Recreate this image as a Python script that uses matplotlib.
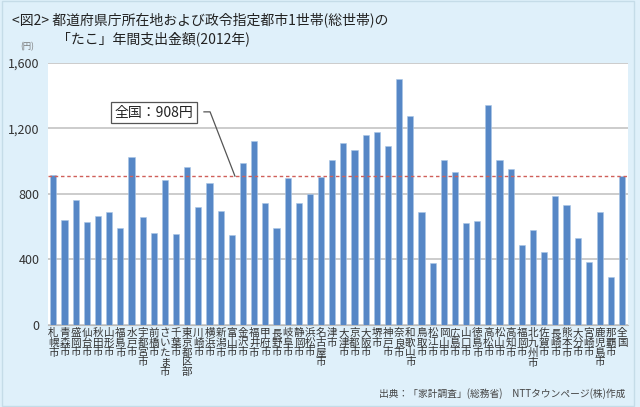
import matplotlib
matplotlib.use("Agg")
import matplotlib.pyplot as plt
from matplotlib.patches import Rectangle

plt.rcParams['font.family'] = ['Noto Sans CJK JP', 'DejaVu Sans']

cities = ["札幌市", "青森市", "盛岡市", "仙台市", "秋田市", "山形市", "福島市", "水戸市",
          "宇都宮市", "前橋市", "さいたま市", "千葉市", "東京都区部", "川崎市", "横浜市",
          "新潟市", "富山市", "金沢市", "福井市", "甲府市", "長野市", "岐阜市", "静岡市",
          "浜松市", "名古屋市", "津市", "大津市", "京都市", "大阪市", "堺市", "神戸市",
          "奈良市", "和歌山市", "鳥取市", "松江市", "岡山市", "広島市", "山口市", "徳島市",
          "高松市", "松山市", "高知市", "福岡市", "北九州市", "佐賀市", "長崎市", "熊本市",
          "大分市", "宮崎市", "鹿児島市", "那覇市", "全国"]
values = [915, 641, 763, 629, 664, 692, 594, 1022,
          657, 564, 885, 556, 961, 719, 865,
          698, 550, 987, 1120, 745, 594, 896, 745,
          802, 900, 1004, 1110, 1067, 1156, 1179, 1089,
          1500, 1272, 688, 377, 1008, 932, 621, 635,
          1339, 1005, 949, 489, 582, 448, 786, 729,
          533, 387, 692, 295, 908]
national = 908
yticks = [0, 400, 800, 1200, 1600]
ytick_labels = ["0", "400", "800", "1,200", "1,600"]

bg = "#dff0fa"
fig = plt.figure(figsize=(6.4, 4.07), dpi=100, facecolor=bg)
fig.patches.append(Rectangle((0.003, 0.003), 0.988, 0.994, transform=fig.transFigure,
                             fill=False, edgecolor="#c5dce8", lw=1.0))

ax = fig.add_axes([0.075, 0.2015, 0.906, 0.6445])
ax.set_facecolor("white")
x = list(range(len(values)))
ax.bar(x, values, width=0.55, color="#5687c6", edgecolor="#a9c6e6", linewidth=0.4, zorder=3)
ax.set_ylim(0, 1600)
ax.set_xlim(-0.48, len(values) - 0.5)
ax.set_yticks(yticks)
ax.set_yticklabels(ytick_labels, fontsize=9, color="#333333")
ax.yaxis.grid(True, color="#c8c8c8", linewidth=1.3, zorder=0)
ax.set_axisbelow(True)
for s in ["top", "right", "left"]:
    ax.spines[s].set_visible(False)
ax.spines["bottom"].set_color("#bbbbbb")
ax.tick_params(axis="y", length=0, pad=6)
ax.tick_params(axis="x", length=0, pad=2)
ax.set_xticks(x)
ax.set_xticklabels(["\n".join(c) for c in cities], fontsize=7.6, color="#333333",
                   linespacing=0.98, va="top")

ax.axhline(national, color="#d0605a", linestyle=(0, (2.5, 2)), linewidth=1.0, zorder=4)

# annotation for national average
ax.text(9.0, 1295, "全国：908円", fontsize=10, color="#222222", ha="center", va="center",
        zorder=6, bbox=dict(boxstyle="square,pad=0.25", fc="white", ec="#555555", lw=0.9))
ax.plot([13.5, 14.05, 16.28], [1300, 1300, national], color="#555555", lw=0.9, zorder=5)

fig.text(0.018, 0.951, "<図2> 都道府県庁所在地および政令指定都市1世帯(総世帯)の",
         fontsize=10, color="#222222", va="center", ha="left")
fig.text(0.089, 0.904, "「たこ」年間支出金額(2012年)",
         fontsize=10, color="#222222", va="center", ha="left")
fig.text(0.042, 0.885, "(円)", fontsize=6, color="#777777", va="center", ha="center")
fig.text(0.977, 0.034, "出典：「家計調査」(総務省)　NTTタウンページ(株)作成",
         fontsize=7, color="#444444", va="center", ha="right")

fig.savefig("out.png", dpi=100, facecolor=bg)
